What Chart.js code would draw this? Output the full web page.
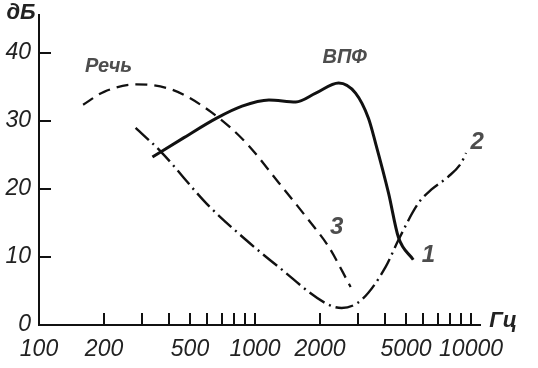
<!DOCTYPE html>
<html>
<head>
<meta charset="utf-8">
<script src="https://cdn.jsdelivr.net/npm/chart.js@4"></script>
<style>
  body { margin: 0; background: #fff; }
</style>
</head>
<body>
<canvas id="chart" width="538" height="368"></canvas>
<script>
// speech spectrum (dashed, "Речь" / 3)
const speechFreq = [160, 200, 283, 414, 634, 909, 1290, 1774, 2193, 2770];
const speechDb = [32.4, 34.3, 35.4, 34.6, 31.2, 26.8, 20.9, 15.4, 11.5, 5.6];

// ВПФ response (solid, 1)
const vpfFreq = [335, 471, 661, 871, 1160, 1545, 1910, 2438, 2920, 3350, 3610, 4150, 4610, 5400];
const vpfDb = [24.7, 27.6, 30.4, 32.2, 33.1, 32.8, 34.1, 35.6, 34.1, 30.4, 26.8, 19.4, 12.9, 9.6];

// curve 2 (dash-dot)
const curve2Freq = [280, 369, 595, 909, 1290, 2124, 2518, 3113, 4017, 4610, 5700, 6540, 7830, 8990, 9480];
const curve2Db = [29.0, 25.4, 17.9, 12.5, 8.5, 3.2, 2.5, 3.7, 8.5, 12.5, 17.9, 19.9, 21.8, 23.8, 25.3];

// axis ticks
const xTickValues = [100, 200, 300, 400, 500, 600, 700, 800, 900, 1000,
  2000, 3000, 4000, 5000, 6000, 7000, 8000, 9000, 10000];
const xTickLabels = [100, 200, 500, 1000, 2000, 5000, 10000];
const yTickValues = [0, 10, 20, 30, 40];

// curve labels: [text, freq, dB, size]
const curveLabels = [
  ['Речь', 210, 38.1, 20],
  ['ВПФ', 2600, 39.4, 20],
  ['1', 6340, 10.3, 24],
  ['2', 10660, 26.8, 24],
  ['3', 2388, 14.4, 24]
];

const pts = (xs, ys) => xs.map((x, i) => ({x: x, y: ys[i]}));
const tickFont = {family: '"Liberation Sans Narrow", "Liberation Sans", Arial, sans-serif', size: 23, style: 'italic'};

const marks = {
  id: 'marks',
  afterDraw(chart) {
    const ctx = chart.ctx;
    const x = chart.scales.x, y = chart.scales.y;
    const area = chart.chartArea;
    ctx.save();
    ctx.strokeStyle = '#111';
    ctx.lineWidth = 2;
    ctx.beginPath();
    xTickValues.forEach(v => {
      if (v === 100) return;
      const px = Math.round(x.getPixelForValue(v));
      ctx.moveTo(px, area.bottom);
      ctx.lineTo(px, area.bottom - 12);
    });
    yTickValues.forEach(v => {
      if (v === 0) return;
      const py = Math.round(y.getPixelForValue(v));
      ctx.moveTo(area.left, py);
      ctx.lineTo(area.left + 12, py);
    });
    ctx.stroke();

    ctx.fillStyle = '#4d4d4d';
    ctx.textAlign = 'center';
    ctx.textBaseline = 'middle';
    curveLabels.forEach(l => {
      ctx.font = 'italic bold ' + l[3] + 'px "Liberation Sans", Arial, sans-serif';
      ctx.fillText(l[0], x.getPixelForValue(l[1]), y.getPixelForValue(l[2]));
    });

    ctx.fillStyle = '#222';
    ctx.font = 'italic bold 22px "Liberation Sans", Arial, sans-serif';
    ctx.fillText('дБ', area.left - 18, area.top - 2);
    ctx.fillText('Гц', area.right + 23, area.bottom - 4);
    ctx.restore();
  }
};

new Chart(document.getElementById('chart'), {
  type: 'line',
  data: {
    datasets: [
      {
        data: pts(speechFreq, speechDb),
        borderColor: '#111',
        borderWidth: 2.3,
        borderDash: [12, 7],
        pointRadius: 0,
        cubicInterpolationMode: 'monotone'
      },
      {
        data: pts(vpfFreq, vpfDb),
        borderColor: '#111',
        borderWidth: 3,
        pointRadius: 0,
        cubicInterpolationMode: 'monotone'
      },
      {
        data: pts(curve2Freq, curve2Db),
        borderColor: '#111',
        borderWidth: 2.4,
        borderDash: [18, 5, 2, 5],
        pointRadius: 0,
        cubicInterpolationMode: 'monotone'
      }
    ]
  },
  options: {
    responsive: false,
    animation: false,
    layout: {padding: {top: 15, right: 58, left: 0, bottom: 0}},
    plugins: {legend: {display: false}, tooltip: {enabled: false}},
    scales: {
      x: {
        type: 'logarithmic',
        min: 100,
        max: 11000,
        grid: {display: false, drawTicks: false},
        border: {display: true, color: '#111', width: 2},
        afterBuildTicks: s => { s.ticks = xTickLabels.map(v => ({value: v})); },
        afterFit: s => { s.height = 43; s.paddingLeft = 0; s.paddingRight = 0; },
        ticks: {
          color: '#222',
          font: tickFont,
          padding: 11,
          maxRotation: 0,
          autoSkip: false,
          callback: v => String(v)
        }
      },
      y: {
        min: 0,
        max: 45.6,
        grid: {display: false, drawTicks: false},
        border: {display: true, color: '#111', width: 2},
        afterBuildTicks: s => { s.ticks = yTickValues.map(v => ({value: v})); },
        afterFit: s => { s.width = 39; s.paddingTop = 0; s.paddingBottom = 0; },
        ticks: {
          color: '#222',
          font: tickFont,
          padding: 8,
          callback: v => String(v)
        }
      }
    }
  },
  plugins: [marks]
});
</script>
</body>
</html>
